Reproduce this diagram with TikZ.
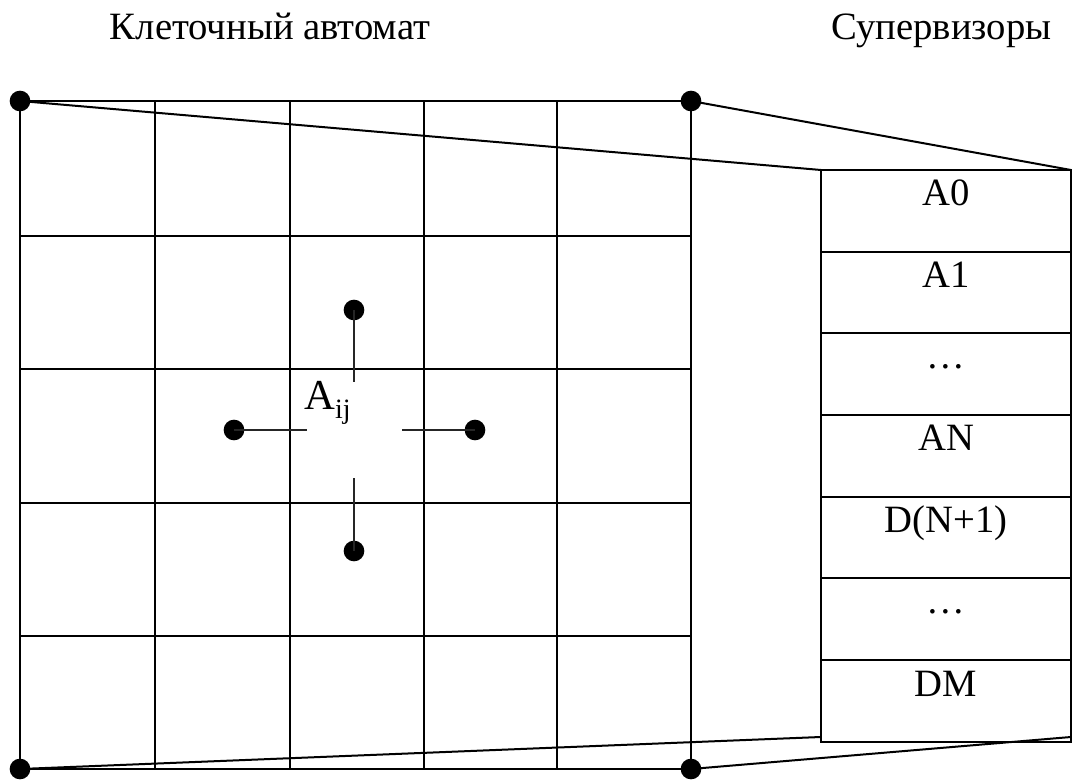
\documentclass[tikz,border=0pt]{standalone}
\usepackage{fontspec}
\setmainfont{Liberation Serif}
\begin{document}
\begin{tikzpicture}[x=0.75pt,y=-0.75pt,
  dot/.style={circle,fill=black,inner sep=0pt,minimum size=15.5pt},
  gridline/.style={line width=1.5pt,line cap=rect},
  link/.style={line width=1.5pt},
  spoke/.style={line width=1.1pt,draw=black!85},
  lbl/.style={font=\fontsize{29}{34}\selectfont,anchor=base,inner sep=0pt},
  ttl/.style={font=\fontsize{29}{34}\selectfont,anchor=base,inner sep=0pt}]
\useasboundingbox (0,0) rectangle (1072,780);
% titles
\node[ttl] (t1) at (270,40) {Клеточный автомат};
\node[ttl] (t2) at (941.5,40) {Супервизоры};
% grid
\foreach \x in {20,155,290,424,557,691} \draw[gridline] (\x,101) -- (\x,769);
\foreach \y in {101,236,369,503,636,769} \draw[gridline] (20,\y) -- (691,\y);
% corner dots
\node[dot] (tl) at (20,101) {};
\node[dot] (tr) at (691,101) {};
\node[dot] (bl) at (20,769) {};
\node[dot] (br) at (691,769) {};
% supervisor table
\draw[gridline] (821,170) rectangle (1071,742);
\foreach \y in {252,333,415,497,578,660} \draw[gridline] (821,\y) -- (1071,\y);
\coordinate (stl) at (821,170);
\coordinate (str) at (1071,170);
\coordinate (sbl) at (821,737);
\coordinate (sbr) at (1071,737);
\draw[link] (tl.center) -- (stl);
\draw[link] (tr.center) -- (str);
\draw[link] (bl.center) -- (sbl);
\draw[link] (br.center) -- (sbr);
\node[lbl] (s0) at (946,206) {A0};
\node[lbl] (s1) at (946,288) {A1};
\node[lbl] (s2) at (946,369) {\dots};
\node[lbl] (s3) at (946,451) {AN};
\node[lbl] (s4) at (946,533) {D(N+1)};
\node[lbl] (s5) at (946,614) {\dots};
\node[lbl] (s6) at (946,696) {DM};
% centre cell
\node[font=\fontsize{32}{36}\selectfont,anchor=base west,inner sep=0pt] (aij) at (304,410) {A\raisebox{-0.2em}{\fontsize{21}{24}\selectfont ij}};
\node[dot] (dn) at (354,310) {};
\node[dot] (dw) at (234,430) {};
\node[dot] (de) at (475,430) {};
\node[dot] (ds) at (354,551) {};
\coordinate (cn) at (354,382);
\coordinate (cw) at (307,430);
\coordinate (ce) at (402,430);
\coordinate (cs) at (354,478);
\draw[spoke] (dn.center) -- (cn);
\draw[spoke] (dw.center) -- (cw);
\draw[spoke] (de.center) -- (ce);
\draw[spoke] (ds.center) -- (cs);
\end{tikzpicture}
\end{document}
